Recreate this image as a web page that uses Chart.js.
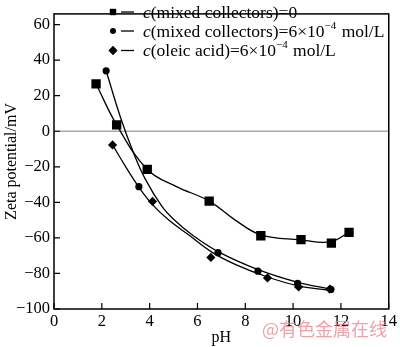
<!DOCTYPE html>
<html><head><meta charset="utf-8">
<script src="https://cdn.jsdelivr.net/npm/chart.js@4"></script>
<style>html,body{margin:0;padding:0;background:#fff;}canvas{display:block;}</style>
</head><body>
<canvas id="c" width="400" height="347"></canvas>
<script>
const xTicks = [0, 2, 4, 6, 8, 10, 12, 14];
const yTicks = [-100, -80, -60, -40, -20, 0, 20, 40, 60];
// measured points
const phMixed0 = [1.76, 2.62, 3.9, 6.49, 8.65, 10.33, 11.6, 12.34];
const zetaMixed0 = [26.6, 3.6, -21.5, -39.3, -58.8, -61.0, -62.9, -56.9];
const phMixed6 = [2.18, 3.55, 6.86, 8.53, 10.19, 11.58];
const zetaMixed6 = [34.0, -31.2, -68.3, -78.7, -85.6, -89.0];
const phOleic6 = [2.45, 4.12, 6.56, 8.93, 10.23, 11.54];
const zetaOleic6 = [-7.7, -39.5, -71.0, -82.5, -87.6, -88.8];
// fitted curves
const fitPhMixed0 = [1.76, 2.62, 3.9, 5.1, 6.49, 7.55, 8.65, 10.3, 11.54, 12.34];
const fitZetaMixed0 = [26.6, 3.6, -21.5, -31.0, -39.3, -49.7, -58.3, -61.1, -62.3, -56.9];
const fitPhMixed6 = [2.18, 2.8, 3.35, 3.83, 4.5, 5.0, 5.8, 6.86, 8.51, 10.17, 11.54];
const fitZetaMixed6 = [34.0, 7.0, -13.0, -27.2, -42.0, -49.5, -58.5, -67.7, -77.7, -84.9, -88.8];
const fitPhOleic6 = [2.45, 3.0, 3.5, 4.1, 4.8, 5.6, 6.6, 7.6, 8.93, 10.17, 11.54];
const fitZetaOleic6 = [-7.7, -20.0, -30.5, -41.0, -50.0, -58.0, -68.0, -75.0, -82.0, -86.8, -89.6];
const legendItems = [
  [{t:'c', i:true}, {t:'(mixed collectors)=0'}],
  [{t:'c', i:true}, {t:'(mixed collectors)=6×10'}, {t:'−4', s:true}, {t:' mol/L'}],
  [{t:'c', i:true}, {t:'(oleic acid)=6×10'}, {t:'−4', s:true}, {t:' mol/L'}]
];
const legendMarkers = ['rect', 'circle', 'rectRot'];
const watermark = '@有色金属在线';

const SERIF = '"Liberation Serif", "Times New Roman", serif';
const toPts = (xs, ys) => xs.map((x, i) => ({x, y: ys[i]}));
const fmt = v => v < 0 ? '\u2212' + Math.abs(v) : String(v);

const framePlugin = {
  id: 'frame',
  beforeDatasetsDraw(chart) {
    const {ctx, chartArea: a, scales} = chart;
    ctx.save();
    const y0 = scales.y.getPixelForValue(0);
    ctx.strokeStyle = '#a8a8a8';
    ctx.lineWidth = 1.5;
    ctx.beginPath(); ctx.moveTo(a.left, y0); ctx.lineTo(a.right, y0); ctx.stroke();
    ctx.restore();
  },
  afterDatasetsDraw(chart) {
    const {ctx, chartArea: a, scales} = chart;
    ctx.save();
    ctx.strokeStyle = '#000';
    ctx.lineWidth = 1.5;
    ctx.strokeRect(a.left, a.top, a.right - a.left, a.bottom - a.top);
    ctx.lineWidth = 1.2;
    ctx.beginPath();
    xTicks.forEach(v => { const x = scales.x.getPixelForValue(v); ctx.moveTo(x, a.bottom); ctx.lineTo(x, a.bottom - 6); });
    yTicks.forEach(v => { const y = scales.y.getPixelForValue(v); ctx.moveTo(a.left, y); ctx.lineTo(a.left + 6, y); });
    ctx.stroke();
    // legend
    const rowsY = [12, 31, 50.5];
    legendItems.forEach((segs, r) => {
      const y = rowsY[r];
      ctx.fillStyle = '#000';
      Chart.helpers.drawPoint(ctx, {pointStyle: legendMarkers[r], radius: legendMarkers[r] === 'circle' ? 2.8 : 4.4, rotation: 0, borderWidth: 0}, 113, y);
      ctx.fill();
      ctx.lineWidth = 1.3;
      ctx.beginPath(); ctx.moveTo(121, y); ctx.lineTo(134, y); ctx.stroke();
      let x = 143;
      ctx.textBaseline = 'middle';
      ctx.textAlign = 'left';
      segs.forEach(s => {
        ctx.font = (s.i ? 'italic ' : '') + (s.s ? '11px ' : '17.5px ') + SERIF;
        ctx.fillText(s.t, x, s.s ? y - 5 : y + 1);
        x += ctx.measureText(s.t).width + (s.s ? 1 : 0);
      });
    });
    // watermark
    ctx.font = '18px "Noto Sans CJK SC", sans-serif';
    ctx.fillStyle = 'rgba(232,130,140,0.75)';
    ctx.textBaseline = 'middle';
    ctx.fillText(watermark, 262, 329);
    ctx.restore();
  }
};

const curve = (label, xs, ys) => ({label, data: toPts(xs, ys), borderColor: '#000', borderWidth: 1.3, pointRadius: 0, fill: false, tension: 0.4});
const marks = (label, xs, ys, style, r) => ({label, data: toPts(xs, ys), showLine: false, pointStyle: style, pointRadius: r, backgroundColor: '#000', borderColor: '#000', pointBorderWidth: 0});

new Chart(document.getElementById('c'), {
  type: 'line',
  data: {
    datasets: [
      curve('fit c(mixed collectors)=0', fitPhMixed0, fitZetaMixed0),
      curve('fit c(mixed collectors)=6×10⁻⁴ mol/L', fitPhMixed6, fitZetaMixed6),
      curve('fit c(oleic acid)=6×10⁻⁴ mol/L', fitPhOleic6, fitZetaOleic6),
      marks('c(mixed collectors)=0', phMixed0, zetaMixed0, 'rect', 6.6),
      marks('c(mixed collectors)=6×10⁻⁴ mol/L', phMixed6, zetaMixed6, 'circle', 3.6),
      marks('c(oleic acid)=6×10⁻⁴ mol/L', phOleic6, zetaOleic6, 'rectRot', 4.6)
    ]
  },
  options: {
    responsive: false,
    animation: false,
    devicePixelRatio: 1,
    layout: {padding: {top: 1, right: 7, left: 0, bottom: 0}},
    plugins: {legend: {display: false}, tooltip: {enabled: false}},
    scales: {
      x: {
        type: 'linear', min: 0, max: 14,
        afterBuildTicks: s => { s.ticks = xTicks.map(v => ({value: v})); },
        afterFit: s => { s.height = 38; },
        grid: {display: false, drawTicks: false},
        border: {display: false},
        ticks: {color: '#000', font: {family: SERIF, size: 16.5}, padding: 3, maxRotation: 0, callback: fmt},
        title: {display: true, text: 'pH', color: '#000', font: {family: SERIF, size: 16}, padding: {top: 0, bottom: 0}}
      },
      y: {
        type: 'linear', min: -100, max: 66,
        afterBuildTicks: s => { s.ticks = yTicks.map(v => ({value: v})); },
        afterFit: s => { s.width = 54; },
        grid: {display: false, drawTicks: false},
        border: {display: false},
        ticks: {color: '#000', font: {family: SERIF, size: 16.5}, padding: 4, callback: fmt},
        title: {display: true, text: 'Zeta potential/mV', color: '#000', font: {family: SERIF, size: 16}, padding: {top: 2, bottom: 0}}
      }
    }
  },
  plugins: [framePlugin]
});
</script>
</body></html>
